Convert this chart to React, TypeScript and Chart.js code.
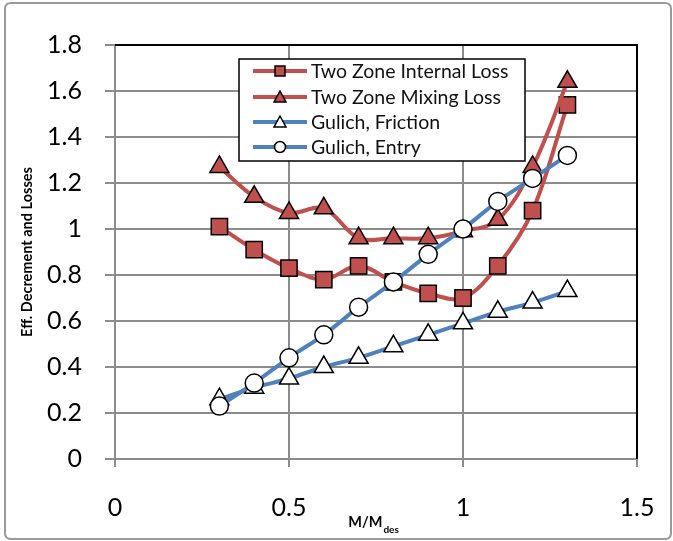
import React, { useEffect, useRef } from "react";
import { Chart, registerables } from "chart.js";

Chart.register(...registerables);

const xValues = [0.3, 0.4, 0.5, 0.6, 0.7, 0.8, 0.9, 1.0, 1.1, 1.2, 1.3];
const internalLoss = [1.01, 0.91, 0.83, 0.78, 0.84, 0.77, 0.72, 0.7, 0.84, 1.08, 1.54];
const mixingLoss = [1.27, 1.14, 1.07, 1.09, 0.96, 0.96, 0.96, 0.99, 1.04, 1.27, 1.64];
const gulichFriction = [0.26, 0.31, 0.35, 0.4, 0.44, 0.49, 0.54, 0.59, 0.64, 0.68, 0.73];
const gulichEntry = [0.23, 0.33, 0.44, 0.54, 0.66, 0.77, 0.89, 1.0, 1.12, 1.22, 1.32];

const seriesNames = [
  "Two Zone Internal Loss",
  "Two Zone Mixing Loss",
  "Gulich, Friction",
  "Gulich, Entry",
];
const yTickLabels = ["0", "0.2", "0.4", "0.6", "0.8", "1", "1.2", "1.4", "1.6", "1.8"];
const xTickLabels = ["0", "0.5", "1", "1.5"];
const yTitle = "Eff. Decrement and Losses";
const xTitleMain = "M/M";
const xTitleSub = "des";

const RED = "#C0504D";
const BLUE = "#4F81BD";
const GRID = "#8c8c8c";
const FONT = "Lato, 'Open Sans', sans-serif";

const toPts = (ys: number[]) => xValues.map((x, i) => ({ x, y: ys[i] }));

const decorPlugin = {
  id: "decor",
  beforeDraw(chart: any) {
    const ctx = chart.ctx;
    ctx.save();
    ctx.fillStyle = "#ffffff";
    ctx.fillRect(0, 0, chart.width, chart.height);
    ctx.strokeStyle = "#9a9a9a";
    ctx.lineWidth = 2;
    const r = 6;
    const x0 = 5, y0 = 3, x1 = chart.width - 2, y1 = chart.height - 2;
    ctx.beginPath();
    ctx.moveTo(x0 + r, y0);
    ctx.lineTo(x1 - r, y0);
    ctx.quadraticCurveTo(x1, y0, x1, y0 + r);
    ctx.lineTo(x1, y1 - r);
    ctx.quadraticCurveTo(x1, y1, x1 - r, y1);
    ctx.lineTo(x0 + r, y1);
    ctx.quadraticCurveTo(x0, y1, x0, y1 - r);
    ctx.lineTo(x0, y0 + r);
    ctx.quadraticCurveTo(x0, y0, x0 + r, y0);
    ctx.stroke();
    ctx.restore();
  },
  beforeDatasetsDraw(chart: any) {
    const { ctx, chartArea } = chart;
    ctx.save();
    ctx.strokeStyle = "#000";
    ctx.lineWidth = 2;
    ctx.beginPath();
    ctx.moveTo(chartArea.left, chartArea.top);
    ctx.lineTo(chartArea.right, chartArea.top);
    ctx.lineTo(chartArea.right, chartArea.bottom);
    ctx.stroke();
    ctx.restore();
  },
  afterDraw(chart: any) {
    const { ctx, chartArea } = chart;
    ctx.save();
    // y title
    ctx.fillStyle = "#000";
    ctx.font = `bold 14.5px ${FONT}`;
    ctx.textAlign = "center";
    ctx.textBaseline = "middle";
    ctx.translate(27, (chartArea.top + chartArea.bottom) / 2);
    ctx.rotate(-Math.PI / 2);
    ctx.fillText(yTitle, 0, 0);
    ctx.restore();

    // x title
    ctx.save();
    ctx.fillStyle = "#000";
    ctx.font = `bold 14.5px ${FONT}`;
    ctx.textBaseline = "alphabetic";
    ctx.textAlign = "left";
    const mainW = ctx.measureText(xTitleMain).width;
    ctx.font = `bold 10px ${FONT}`;
    const subW = ctx.measureText(xTitleSub).width;
    const startX = 373 - (mainW + subW) / 2;
    ctx.font = `bold 14.5px ${FONT}`;
    ctx.fillText(xTitleMain, startX, 527);
    ctx.font = `bold 10px ${FONT}`;
    ctx.fillText(xTitleSub, startX + mainW + 1, 533);
    ctx.restore();

    // legend
    ctx.save();
    const lx0 = 239, ly0 = 59, lx1 = 525, ly1 = 161;
    ctx.fillStyle = "#fff";
    ctx.fillRect(lx0, ly0, lx1 - lx0, ly1 - ly0);
    ctx.strokeStyle = "#000";
    ctx.lineWidth = 1.5;
    ctx.strokeRect(lx0, ly0, lx1 - lx0, ly1 - ly0);
    const rows = [71, 97, 122, 147];
    const colors = [RED, RED, BLUE, BLUE];
    const shapes = ["rect", "triangle", "triangle", "circle"];
    const fills = [RED, RED, "#fff", "#fff"];
    rows.forEach((y, i) => {
      ctx.strokeStyle = colors[i];
      ctx.lineWidth = 4;
      ctx.lineCap = "butt";
      ctx.beginPath();
      ctx.moveTo(253, y);
      ctx.lineTo(307, y);
      ctx.stroke();
      const cx = 280;
      ctx.fillStyle = fills[i];
      ctx.strokeStyle = "#000";
      ctx.lineWidth = 1.5;
      ctx.beginPath();
      if (shapes[i] === "rect") {
        ctx.rect(cx - 5, y - 5, 10, 10);
      } else if (shapes[i] === "triangle") {
        ctx.moveTo(cx, y - 6);
        ctx.lineTo(cx + 6, y + 5);
        ctx.lineTo(cx - 6, y + 5);
        ctx.closePath();
      } else {
        ctx.arc(cx, y, 5.5, 0, Math.PI * 2);
      }
      ctx.fill();
      ctx.stroke();
      ctx.fillStyle = "#111";
      ctx.font = `19.5px ${FONT}`;
      ctx.textAlign = "left";
      ctx.textBaseline = "middle";
      ctx.fillText(seriesNames[i], 311, y + 1);
    });
    ctx.restore();
  },
};

export default function App() {
  const ref = useRef<HTMLCanvasElement | null>(null);
  useEffect(() => {
    if (!ref.current) return;
    const common = {
      borderWidth: 4,
      tension: 0.35,
      pointBorderColor: "#000",
      pointBorderWidth: 1.5,
      pointHoverRadius: 0,
    };
    const chart = new Chart(ref.current, {
      type: "line",
      data: {
        datasets: [
          {
            ...common,
            label: seriesNames[0],
            data: toPts(internalLoss),
            borderColor: RED,
            backgroundColor: RED,
            pointBackgroundColor: RED,
            pointStyle: "rect",
            pointRadius: 11.5,
            order: 3,
          },
          {
            ...common,
            label: seriesNames[1],
            data: toPts(mixingLoss),
            borderColor: RED,
            backgroundColor: RED,
            pointBackgroundColor: RED,
            pointStyle: "triangle",
            pointRadius: 11,
            order: 2,
          },
          {
            ...common,
            label: seriesNames[2],
            data: toPts(gulichFriction),
            borderColor: BLUE,
            backgroundColor: BLUE,
            pointBackgroundColor: "#fff",
            pointStyle: "triangle",
            pointRadius: 11,
            order: 1,
          },
          {
            ...common,
            label: seriesNames[3],
            data: toPts(gulichEntry),
            borderColor: BLUE,
            backgroundColor: BLUE,
            pointBackgroundColor: "#fff",
            pointStyle: "circle",
            pointRadius: 9,
            order: 0,
          },
        ],
      },
      options: {
        animation: false,
        responsive: false,
        devicePixelRatio: 1,
        layout: { padding: { top: 45, right: 36, left: 0, bottom: 0 } },
        plugins: { legend: { display: false }, tooltip: { enabled: false } },
        events: [],
        scales: {
          x: {
            type: "linear",
            min: 0,
            max: 1.5,
            ticks: {
              stepSize: 0.5,
              color: "#000",
              font: { family: FONT, size: 25 },
              padding: 26,
              callback: (_v: any, i: number) => xTickLabels[i],
            },
            grid: { color: GRID, lineWidth: 2, tickLength: 8, drawTicks: true },
            border: { color: GRID, width: 2 },
            afterFit: (s: any) => {
              s.height = 82;
              s.paddingLeft = 0;
              s.paddingRight = 0;
            },
          },
          y: {
            type: "linear",
            min: 0,
            max: 1.8,
            ticks: {
              stepSize: 0.2,
              color: "#000",
              font: { family: FONT, size: 25 },
              padding: 23,
              callback: (_v: any, i: number) => yTickLabels[i],
            },
            grid: { color: GRID, lineWidth: 2, tickLength: 10, drawTicks: true },
            border: { color: GRID, width: 2 },
            afterFit: (s: any) => {
              s.width = 115;
              s.paddingTop = 0;
              s.paddingBottom = 0;
            },
          },
        },
      },
      plugins: [decorPlugin],
    } as any);
    return () => chart.destroy();
  }, []);
  return (
    <div style={{ position: "absolute", left: 0, top: 0, width: 673, height: 541 }}>
      <canvas ref={ref} width={673} height={541} style={{ width: 673, height: 541 }} />
    </div>
  );
}
